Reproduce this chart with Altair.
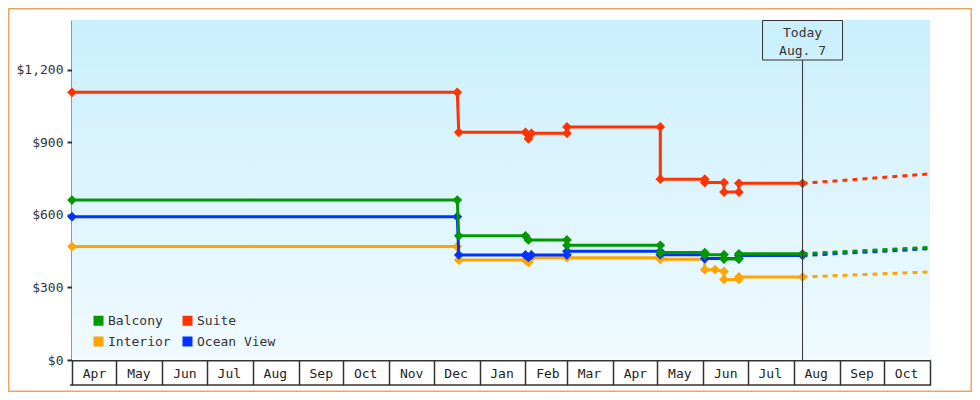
import altair as alt
import pandas as pd

FONT = "DejaVu Sans Mono"
W, H = 858, 340

# legend lays out column-major: this order gives rows "Balcony Suite" / "Interior Ocean View"
SERIES = ["Balcony", "Interior", "Suite", "Ocean View"]
COLORS = ["#009900", "#ffa500", "#ff3300", "#0033ff"]
DRAW_ORDER = ["Interior", "Ocean View", "Balcony", "Suite"]

suite_dates = ["2014-04-01", "2014-12-17", "2014-12-18", "2015-02-01", "2015-02-03", "2015-02-05",
               "2015-03-01", "2015-03-01", "2015-05-03", "2015-05-03", "2015-06-02", "2015-06-02",
               "2015-06-15", "2015-06-15", "2015-06-25", "2015-06-25", "2015-08-07"]
suite_prices = [1106, 1106, 941, 941, 914, 937, 937, 963, 963, 747, 747, 733, 733, 694, 694, 730, 730]

balcony_dates = ["2014-04-01", "2014-12-17", "2014-12-18", "2015-02-01", "2015-02-03", "2015-03-01",
                 "2015-03-01", "2015-05-03", "2015-05-03", "2015-06-02", "2015-06-02", "2015-06-15",
                 "2015-06-15", "2015-06-25", "2015-06-25", "2015-08-07"]
balcony_prices = [661, 661, 513, 513, 496, 496, 474, 474, 444, 444, 435, 435, 417, 417, 439, 439]

ocean_dates = ["2014-04-01", "2014-12-17", "2014-12-18", "2015-02-01", "2015-02-03", "2015-02-05",
               "2015-03-01", "2015-03-01", "2015-05-03", "2015-05-03", "2015-06-02", "2015-06-02",
               "2015-06-15", "2015-06-25", "2015-06-25", "2015-08-07"]
ocean_prices = [592, 592, 434, 434, 424, 434, 434, 449, 449, 435, 435, 419, 419, 419, 432, 432]

interior_dates = ["2014-04-01", "2014-12-17", "2014-12-18", "2015-02-01", "2015-02-03", "2015-02-05",
                  "2015-03-01", "2015-05-03", "2015-05-03", "2015-06-02", "2015-06-02", "2015-06-09",
                  "2015-06-15", "2015-06-15", "2015-06-25", "2015-06-25", "2015-08-07"]
interior_prices = [469, 469, 413, 413, 403, 423, 423, 423, 416, 416, 373, 373, 366, 333, 333, 343, 343]

proj_dates = ["2015-08-07", "2015-11-01"]
proj_suite = [730, 769]
proj_balcony = [439, 465]
proj_ocean = [432, 460]
proj_interior = [343, 364]

TODAY = "2015-08-07"
TODAY_LABEL = ["Today", "Aug. 7"]
Y_TICKS = [0, 300, 600, 900, 1200]

hist = {"Suite": (suite_dates, suite_prices), "Balcony": (balcony_dates, balcony_prices),
        "Ocean View": (ocean_dates, ocean_prices), "Interior": (interior_dates, interior_prices)}
proj = {"Suite": proj_suite, "Balcony": proj_balcony, "Ocean View": proj_ocean, "Interior": proj_interior}

rows = []
for s, (ds, ps) in hist.items():
    for i, (d, p) in enumerate(zip(ds, ps)):
        rows.append({"series": s, "date": d, "price": p, "i": i})
df = pd.DataFrame(rows)
prow = []
for s, ps in proj.items():
    for i, (d, p) in enumerate(zip(proj_dates, ps)):
        prow.append({"series": s, "date": d, "price": p, "i": i})
pdf = pd.DataFrame(prow)

def dt(y, m, d=1):
    return alt.DateTime(year=y, month=m, date=d, utc=True)

x_scale = alt.Scale(type="utc", domain=[dt(2014, 4), dt(2015, 11)])
y_scale = alt.Scale(domain=[0, 1405], nice=False, zero=True)
color_scale = alt.Scale(domain=SERIES, range=COLORS)

month_ticks = [dt(2014, m) for m in range(4, 13)] + [dt(2015, m) for m in range(1, 12)]
x_axis = alt.Axis(values=month_ticks,
                  labelExpr="datum.index == 1 ? '' : utcFormat(datum.value, '%b')",
                  tickSize=25, tickWidth=1.5, tickColor="#333", domainColor="#333", domainWidth=2,
                  labelOffset=22, labelPadding=-12, labelBaseline="middle", labelAlign="center",
                  labelFont=FONT, labelFontSize=13, labelColor="#222", labelOverlap=False,
                  labelBound=False, labelFlush=False, grid=False, title="")
y_axis = alt.Axis(values=Y_TICKS, format="$,.0f", tickSize=5, tickWidth=2, tickColor="#333",
                  domainColor="#333", domainWidth=2, labelFont=FONT, labelFontSize=13,
                  labelColor="#333", labelPadding=4, grid=False, title="")

legend = alt.Legend(orient="none", legendX=20, legendY=294, columns=2, symbolType="square",
                    symbolSize=100, symbolStrokeWidth=0, labelFont=FONT, labelFontSize=13,
                    labelColor="#333", columnPadding=10, rowPadding=7, labelOffset=3, padding=0,
                    title="")

X = alt.X("date:T", scale=x_scale, axis=x_axis, title="")
Y = alt.Y("price:Q", scale=y_scale, axis=y_axis, title="")
C = alt.Color("series:N", scale=color_scale, legend=legend, title="")

one = pd.DataFrame({"a": [0]})
bg = alt.Chart(one).mark_rect(
    fill=alt.Gradient(gradient="linear",
                      stops=[alt.GradientStop(color="#caeffd", offset=0),
                             alt.GradientStop(color="#f0faff", offset=1)],
                      x1=0, x2=0, y1=0, y2=1)
).encode(x=alt.value(0), x2=alt.value(W), y=alt.value(0), y2=alt.value(H))

frame = alt.Chart(one).mark_rect(fill="transparent", stroke="#e9a862", strokeWidth=1.5).encode(
    x=alt.value(-63.25), x2=alt.value(W + 41.25), y=alt.value(-11.25), y2=alt.value(H + 31.25))

bottom_line = alt.Chart(one).mark_rule(color="#333", strokeWidth=1.5).encode(
    x=alt.value(-2), x2=alt.value(W + 1), y=alt.value(H + 25))

layers = [bg]
for s in DRAW_ORDER:
    sub = df[df.series == s]
    psub = pdf[pdf.series == s]
    dash = alt.Chart(psub).mark_line(strokeWidth=3, strokeDash=[5, 5], strokeCap="butt").encode(
        x=X, y=Y, color=C, order=alt.Order("i:Q"))
    line = alt.Chart(sub).mark_line(strokeWidth=3, strokeCap="butt").encode(
        x=X, y=Y, color=C, order=alt.Order("i:Q"))
    pts = alt.Chart(sub).mark_point(shape="diamond", size=95, filled=True, opacity=1).encode(
        x=X, y=Y, color=C)
    layers += [dash, line, pts]

tdf = pd.DataFrame({"date": [TODAY]})
today_rule = alt.Chart(tdf).mark_rule(color="#333", strokeWidth=1).encode(
    x=X, y=alt.value(40), y2=alt.value(H))
today_box = alt.Chart(tdf).mark_rect(xOffset=-40, x2Offset=40, fill="transparent",
                                     stroke="#333", strokeWidth=1).encode(
    x=X, x2="date:T", y=alt.value(0.5), y2=alt.value(40))
today_text = alt.Chart(tdf).mark_text(font=FONT, fontSize=13, color="#333", lineHeight=18,
                                      baseline="middle", align="center").encode(
    x=X, y=alt.value(12.5), text=alt.value(TODAY_LABEL))

layers += [today_rule, today_box, today_text, bottom_line, frame]

chart = alt.layer(*layers).properties(
    width=W, height=H, background="white",
    padding={"left": 64, "top": 12, "right": 42, "bottom": 32},
    autosize=alt.AutoSizeParams(type="none"),
).configure_view(strokeWidth=0)

chart.save("out.html", embed_options={"renderer": "svg", "actions": False})
